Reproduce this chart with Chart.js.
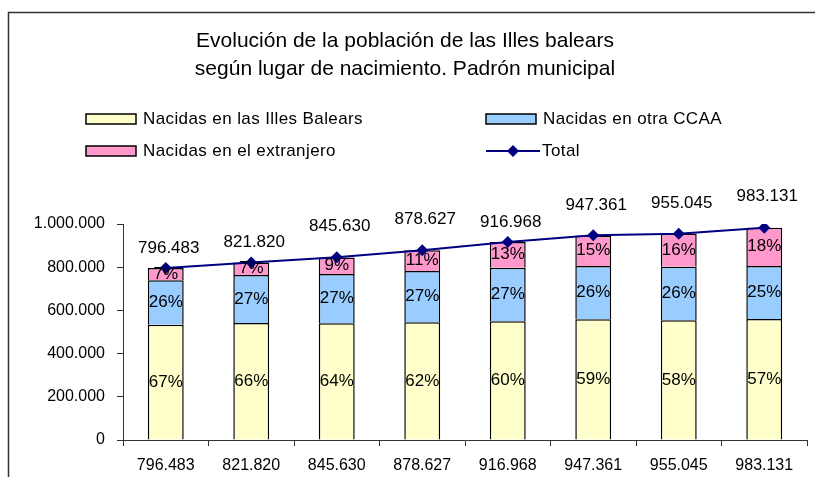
<!DOCTYPE html>
<html>
<head>
<meta charset="utf-8">
<script src="https://cdn.jsdelivr.net/npm/chart.js@4.4.0/dist/chart.umd.min.js"></script>
<style>
  body { margin: 0; background: #fff; }
  #wrap { width: 815px; height: 477px; }
</style>
</head>
<body>
<div id="wrap"><canvas id="chart" width="815" height="477"></canvas></div>
<script>
// categories (the source chart labels each bar with its total)
const categories = ['796.483', '821.820', '845.630', '878.627', '916.968', '947.361', '955.045', '983.131'];

// population by place of birth
const nacidasBaleares = [533000, 542000, 541000, 545000, 550000, 559000, 554000, 560000];
const nacidasOtraCCAA = [207000, 222000, 228000, 237000, 248000, 246000, 248000, 246000];
const nacidasExtranjero = [56000, 58000, 76000, 97000, 119000, 142000, 153000, 177000];
const totals = [796483, 821820, 845630, 878627, 916968, 947361, 955045, 983131];

// percentage labels shown inside each segment
const pctBaleares = [67, 66, 64, 62, 60, 59, 58, 57];
const pctOtraCCAA = [26, 27, 27, 27, 27, 26, 26, 25];
const pctExtranjero = [7, 7, 9, 11, 13, 15, 16, 18];

const yTicks = [0, 200000, 400000, 600000, 800000, 1000000];

const titleLines = ['Evolución de la población de las Illes balears', 'según lugar de nacimiento. Padrón municipal'];

// how far above each diamond the total label sits (px)
const totalLabelLift = [20, 20, 31, 31, 20, 30, 30, 31];

const FONT = '"Liberation Sans", Arial, sans-serif';
Chart.defaults.font.family = FONT;
Chart.defaults.color = '#000';

function fmt(n) {
    return String(n).replace(/\B(?=(\d{3})+(?!\d))/g, '.');
}

const framePlugin = {
    id: 'frame',
    beforeDraw(chart) {
        const ctx = chart.ctx;
        ctx.save();
        ctx.fillStyle = '#fff';
        ctx.fillRect(0, 0, chart.width, chart.height);
        ctx.strokeStyle = '#333';
        ctx.lineWidth = 1.5;
        ctx.strokeRect(8.5, 12.5, 900, 600);

        // title
        ctx.fillStyle = '#000';
        ctx.font = '21px ' + FONT;
        ctx.textAlign = 'center';
        ctx.textBaseline = 'middle';
        ctx.fillText(titleLines[0], 405, 41);
        ctx.fillText(titleLines[1], 405, 69);

        // legend, two columns
        const colX = [86, 486];
        const rowY = [119, 151];
        const order = [1, 2, 3, 0];
        ctx.font = '17px ' + FONT;
        ctx.letterSpacing = '0.4px';
        ctx.textAlign = 'left';
        order.forEach((di, i) => {
            const ds = chart.data.datasets[di];
            const x = colX[i % 2];
            const y = rowY[Math.floor(i / 2)];
            if (ds.type === 'line') {
                ctx.strokeStyle = ds.borderColor;
                ctx.lineWidth = 2;
                ctx.beginPath();
                ctx.moveTo(x, y);
                ctx.lineTo(x + 54, y);
                ctx.stroke();
                ctx.fillStyle = ds.borderColor;
                ctx.beginPath();
                ctx.moveTo(x + 27 - 6, y);
                ctx.lineTo(x + 27, y - 6);
                ctx.lineTo(x + 27 + 6, y);
                ctx.lineTo(x + 27, y + 6);
                ctx.closePath();
                ctx.fill();
                ctx.fillStyle = '#000';
                ctx.fillText(ds.label, x + 56, y);
            } else {
                ctx.fillStyle = ds.backgroundColor;
                ctx.fillRect(x, y - 5, 50, 10);
                ctx.strokeStyle = '#000';
                ctx.lineWidth = 1.5;
                ctx.strokeRect(x, y - 5, 50, 10);
                ctx.fillStyle = '#000';
                ctx.fillText(ds.label, x + 57, y);
            }
        });
        ctx.restore();
    },
    afterDatasetsDraw(chart) {
        const ctx = chart.ctx;
        ctx.save();
        ctx.fillStyle = '#000';
        ctx.textAlign = 'center';
        ctx.textBaseline = 'middle';
        ctx.font = '17px ' + FONT;
        const pcts = [null, pctBaleares, pctOtraCCAA, pctExtranjero];
        for (let d = 1; d <= 3; d++) {
            chart.getDatasetMeta(d).data.forEach((bar, i) => {
                const mid = (bar.y + bar.base) / 2;
                ctx.fillText(pcts[d][i] + '%', bar.x, mid);
            });
        }
        ctx.font = '17px ' + FONT;
        chart.getDatasetMeta(0).data.forEach((pt, i) => {
            ctx.fillText(fmt(totals[i]), pt.x + 3, pt.y - totalLabelLift[i]);
        });
        ctx.restore();
    }
};

new Chart(document.getElementById('chart'), {
    data: {
        labels: categories,
        datasets: [
            {
                type: 'line',
                label: 'Total',
                data: totals,
                stack: 'total',
                order: 0,
                borderColor: '#000080',
                backgroundColor: '#000080',
                borderWidth: 2,
                pointStyle: 'rectRot',
                pointRadius: 6,
                pointBackgroundColor: '#000080',
                pointBorderWidth: 0,
                tension: 0
            },
            {
                type: 'bar',
                label: 'Nacidas en las Illes Balears',
                data: nacidasBaleares,
                stack: 'pop',
                order: 1,
                backgroundColor: '#FFFFCC',
                borderColor: '#000',
                borderWidth: 1.5
            },
            {
                type: 'bar',
                label: 'Nacidas en otra CCAA',
                data: nacidasOtraCCAA,
                stack: 'pop',
                order: 1,
                backgroundColor: '#99CCFF',
                borderColor: '#000',
                borderWidth: 1.5
            },
            {
                type: 'bar',
                label: 'Nacidas en el extranjero',
                data: nacidasExtranjero,
                stack: 'pop',
                order: 1,
                backgroundColor: '#FF99CC',
                borderColor: '#000',
                borderWidth: 1.5
            }
        ]
    },
    options: {
        responsive: false,
        animation: false,
        layout: { padding: { top: 224, right: 8, bottom: 0, left: 0 } },
        datasets: {
            bar: { barPercentage: 0.42, categoryPercentage: 1 }
        },
        plugins: {
            legend: { display: false },
            title: { display: false },
            tooltip: { enabled: false }
        },
        scales: {
            x: {
                stacked: true,
                offset: true,
                grid: { drawOnChartArea: false, drawTicks: true, tickLength: 6, offset: true, color: '#333' },
                border: { color: '#333', width: 1 },
                ticks: { font: { size: 16 }, padding: 10, maxRotation: 0, autoSkip: false },
                afterFit(s) { s.height = 37; }
            },
            y: {
                stacked: true,
                min: 0,
                max: 1000000,
                afterBuildTicks(s) { s.ticks = yTicks.map(v => ({ value: v })); },
                grid: { drawOnChartArea: false, drawTicks: true, tickLength: 6, color: '#333' },
                border: { color: '#333', width: 1 },
                ticks: {
                    font: { size: 16 },
                    padding: 12,
                    callback: v => v === 0 ? '0' : fmt(v)
                },
                afterFit(s) { s.width = 123; }
            }
        }
    },
    plugins: [framePlugin]
});
</script>
</body>
</html>
